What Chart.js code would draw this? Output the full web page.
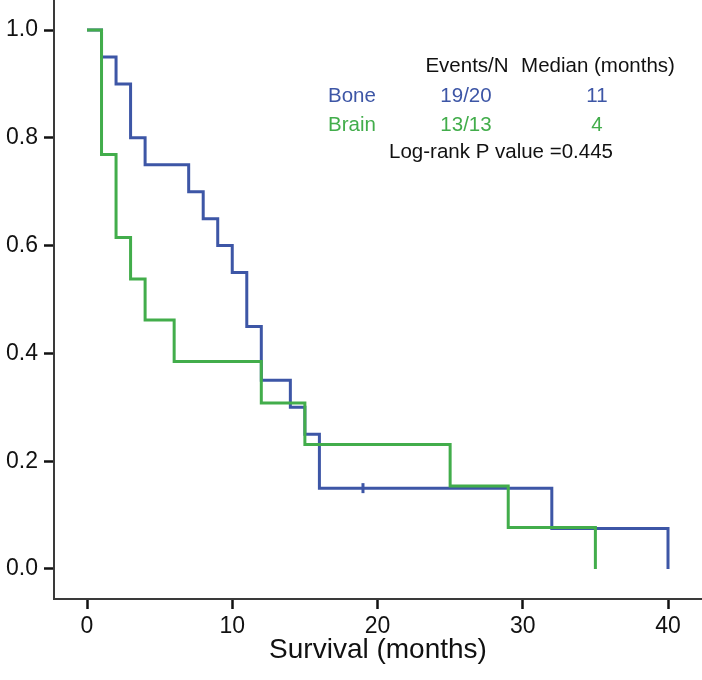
<!DOCTYPE html>
<html>
<head>
<meta charset="utf-8">
<script src="https://cdn.jsdelivr.net/npm/chart.js@4/dist/chart.umd.min.js"></script>
<style>
  html, body { margin: 0; padding: 0; background: #fff; }
  #wrap { width: 702px; height: 680px; }
</style>
</head>
<body>
<div id="wrap"><canvas id="kmChart"></canvas></div>
<script>
// Kaplan-Meier data
const boneTimes = [0, 1, 2, 3, 4, 7, 8, 9, 10, 11, 12, 14, 15, 16, 32, 40];
const boneSurv  = [1, 0.95, 0.90, 0.80, 0.75, 0.70, 0.65, 0.60, 0.55, 0.45, 0.35, 0.30, 0.25, 0.15, 0.075, 0];
const boneCensorTimes = [19];
const boneCensorSurv  = [0.15];

const brainTimes = [0, 1, 2, 3, 4, 6, 12, 15, 25, 29, 35];
const brainSurv  = [1, 0.769, 0.615, 0.538, 0.462, 0.385, 0.308, 0.231, 0.154, 0.077, 0];

const xTicks = [0, 10, 20, 30, 40];
const yTicks = [0, 0.2, 0.4, 0.6, 0.8, 1.0];

const groups   = ['Bone', 'Brain'];
const eventsN  = ['19/20', '13/13'];
const medians  = ['11', '4'];
const pText    = 'Log-rank P value =0.445';

const blue = '#3d56a6';
const green = '#42ad4b';
const axisColor = '#3a3a3a';
const fontFam = '"Liberation Sans", Arial, Helvetica, sans-serif';

function pts(xs, ys) {
  return xs.map((x, i) => ({ x: x, y: ys[i] }));
}

// no extra room for labels that stick out, the axes run to the canvas edge
function noPad(axis) {
  axis.paddingTop = 0;
  axis.paddingBottom = 0;
  axis.paddingLeft = 0;
  axis.paddingRight = 0;
}

// table of events / medians in the upper right
const statsTable = {
  id: 'statsTable',
  afterDatasetsDraw(chart) {
    const c = chart.ctx;
    c.save();
    c.font = '20.5px ' + fontFam;
    c.textBaseline = 'alphabetic';
    c.fillStyle = '#111';
    c.textAlign = 'center';
    c.fillText('Events/N', 467, 72);
    c.fillText('Median (months)', 598, 72);
    const colors = [blue, green];
    const rows = [102, 131];
    groups.forEach((g, i) => {
      c.fillStyle = colors[i];
      c.textAlign = 'left';
      c.fillText(g, 328, rows[i]);
      c.textAlign = 'center';
      c.fillText(eventsN[i], 466, rows[i]);
      c.fillText(medians[i], 597, rows[i]);
    });
    c.fillStyle = '#111';
    c.fillText(pText, 501, 158);
    c.restore();
  }
};

const ctx = document.getElementById('kmChart').getContext('2d');
const kmChart = new Chart(ctx, {
  type: 'scatter',
  data: {
    datasets: [
      {
        label: 'Bone',
        data: pts(boneTimes, boneSurv),
        showLine: true,
        stepped: 'before',
        borderColor: blue,
        borderWidth: 3,
        pointRadius: 0,
        fill: false,
        order: 2
      },
      {
        label: 'Bone censored',
        data: pts(boneCensorTimes, boneCensorSurv),
        showLine: false,
        pointStyle: 'line',
        rotation: 90,
        pointRadius: 5,
        borderColor: blue,
        borderWidth: 3,
        order: 2
      },
      {
        label: 'Brain',
        data: pts(brainTimes, brainSurv),
        showLine: true,
        stepped: 'before',
        borderColor: green,
        borderWidth: 3,
        pointRadius: 0,
        fill: false,
        order: 1
      }
    ]
  },
  options: {
    responsive: true,
    maintainAspectRatio: false,
    animation: false,
    layout: { padding: 0, autoPadding: false },
    plugins: {
      legend: { display: false },
      tooltip: { enabled: false }
    },
    scales: {
      x: {
        type: 'linear',
        min: -2.272,
        max: 42.34,
        afterBuildTicks: (axis) => { axis.ticks = xTicks.map(v => ({ value: v })); },
        afterFit: (axis) => { axis.height = 81; noPad(axis); },
        grid: {
          drawOnChartArea: false,
          drawTicks: true,
          tickLength: 10,
          tickWidth: 2.5,
          tickColor: '#111'
        },
        border: { display: true, color: axisColor, width: 2 },
        ticks: {
          color: '#111',
          padding: 4,
          font: { family: fontFam, size: 23 }
        },
        title: {
          display: true,
          text: 'Survival (months)',
          color: '#111',
          padding: { top: 0, bottom: 13 },
          font: { family: fontFam, size: 28 }
        }
      },
      y: {
        type: 'linear',
        min: -0.0557,
        max: 1.0557,
        afterBuildTicks: (axis) => { axis.ticks = yTicks.map(v => ({ value: v })); },
        afterFit: (axis) => { axis.width = 54; noPad(axis); },
        grid: {
          drawOnChartArea: false,
          drawTicks: true,
          tickLength: 10,
          tickWidth: 2.5,
          tickColor: '#111'
        },
        border: { display: true, color: axisColor, width: 2 },
        ticks: {
          color: '#111',
          padding: 6,
          font: { family: fontFam, size: 23 },
          callback: (v) => v.toFixed(1)
        }
      }
    }
  },
  plugins: [statsTable]
});
</script>
</body>
</html>
